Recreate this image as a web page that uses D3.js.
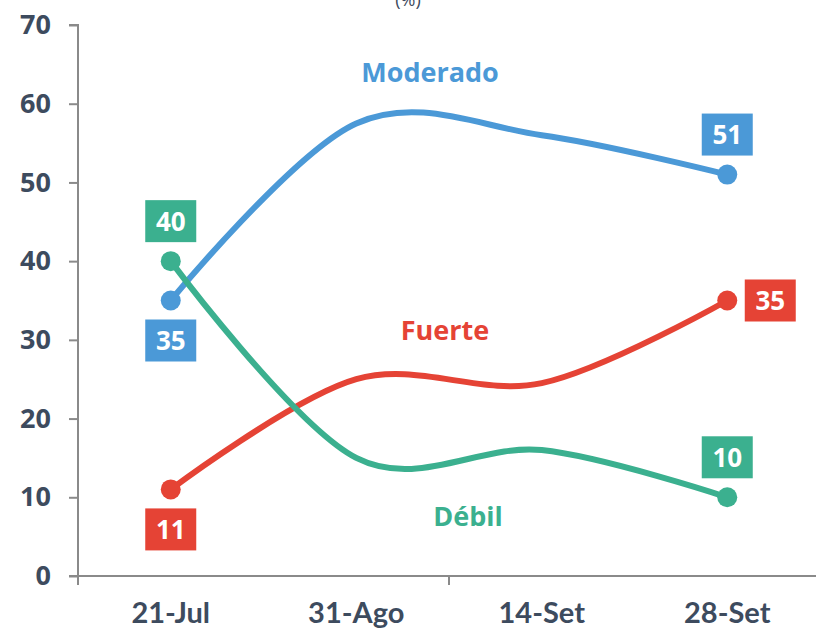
<!DOCTYPE html>
<html>
<head>
<meta charset="utf-8">
<script src="https://cdn.jsdelivr.net/npm/d3@7"></script>
<style>
  body { margin: 0; background: #fff; }
  svg { display: block; }
</style>
</head>
<body>
<div id="chart"></div>
<script>
// Data
var categories = ["21-Jul", "31-Ago", "14-Set", "28-Set"];
var moderado = [35, 57.5, 56, 51];
var fuerte = [11, 25, 24.5, 35];
var debil = [40, 15, 16, 10];
var yTicks = [0, 10, 20, 30, 40, 50, 60, 70];

var series = [
  { name: "Moderado", values: moderado, color: "#4b99d7", nameX: 430, nameY: 72,
    labels: [{ i: 0, pos: "below" }, { i: 3, pos: "above" }] },
  { name: "Fuerte", values: fuerte, color: "#e54335", nameX: 445, nameY: 330,
    labels: [{ i: 0, pos: "below" }, { i: 3, pos: "right" }] },
  { name: "Débil", values: debil, color: "#3bb08f", nameX: 468, nameY: 516,
    labels: [{ i: 0, pos: "above" }, { i: 3, pos: "above" }] }
];

var svgWidth = 816;
var svgHeight = 629;
var margin = { top: 25, right: -4, bottom: 53, left: 78 };
var width = svgWidth - margin.left - margin.right;
var height = svgHeight - margin.top - margin.bottom;

var svg = d3.select("#chart")
  .append("svg")
  .attr("width", svgWidth)
  .attr("height", svgHeight);

// "(%)" title, partly cut off at the top
svg.append("text")
  .attr("x", 408)
  .attr("y", 6)
  .attr("text-anchor", "middle")
  .attr("font-family", "Open Sans, sans-serif")
  .attr("font-size", "18px")
  .attr("fill", "#3d4b5e")
  .text("(%)");

var chartGroup = svg.append("g")
  .attr("transform", `translate(${margin.left}, ${margin.top})`);

// Scales
var xBand = d3.scaleBand()
  .domain(categories)
  .range([0, width]);
var xScale = d => xBand(d) + xBand.bandwidth() / 2;

var yScale = d3.scaleLinear()
  .domain([0, 70])
  .range([height, 0]);

// Y axis
var leftAxis = d3.axisLeft(yScale)
  .tickValues(yTicks)
  .tickSize(9)
  .tickPadding(18);
var yAxisG = chartGroup.append("g").call(leftAxis);
yAxisG.select(".domain").attr("stroke", "#8a8a8a").attr("stroke-width", 2)
  .attr("d", `M-9,0H0V${height}`);
yAxisG.selectAll(".tick line").attr("stroke", "#8a8a8a").attr("stroke-width", 2);
yAxisG.selectAll(".tick text")
  .attr("font-family", "Open Sans, sans-serif")
  .attr("font-weight", "bold")
  .attr("font-size", "27px")
  .attr("fill", "#3d4b5e");

// X axis: line with ticks every two categories
var xAxisG = chartGroup.append("g")
  .attr("transform", `translate(0, ${height})`);
xAxisG.append("line")
  .attr("x1", -9).attr("x2", width)
  .attr("stroke", "#8a8a8a").attr("stroke-width", 2);
xAxisG.selectAll(".xtick")
  .data([categories[0], categories[2]])
  .enter()
  .append("line")
  .attr("x1", d => xBand(d)).attr("x2", d => xBand(d))
  .attr("y1", 0).attr("y2", 9)
  .attr("stroke", "#8a8a8a").attr("stroke-width", 2);
xAxisG.selectAll(".xlabel")
  .data(categories)
  .enter()
  .append("text")
  .attr("x", d => xScale(d))
  .attr("y", 47)
  .attr("text-anchor", "middle")
  .attr("font-family", "Lato, sans-serif")
  .attr("font-weight", "bold")
  .attr("font-size", "29px")
  .attr("fill", "#3d4b5e")
  .text(d => d);

// Lines
var line = d3.line()
  .x((d, i) => xScale(categories[i]))
  .y(d => yScale(d))
  .curve(d3.curveCardinal.tension(0));

series.forEach(function(s) {
  chartGroup.append("path")
    .datum(s.values)
    .attr("d", line)
    .attr("fill", "none")
    .attr("stroke", s.color)
    .attr("stroke-width", 6)
    .attr("stroke-linecap", "round");

  // end points
  chartGroup.selectAll(null)
    .data(s.labels)
    .enter()
    .append("circle")
    .attr("cx", d => xScale(categories[d.i]))
    .attr("cy", d => yScale(s.values[d.i]))
    .attr("r", 10)
    .attr("fill", s.color);

  // value boxes
  s.labels.forEach(function(l) {
    var cx = xScale(categories[l.i]);
    var cy = yScale(s.values[l.i]);
    if (l.pos === "above") cy -= 40;
    if (l.pos === "below") cy += 40;
    if (l.pos === "right") cx += 43;
    chartGroup.append("rect")
      .attr("x", cx - 25.5)
      .attr("y", cy - 21)
      .attr("width", 51)
      .attr("height", 42)
      .attr("fill", s.color);
    chartGroup.append("text")
      .attr("x", cx)
      .attr("y", cy)
      .attr("dy", "0.36em")
      .attr("text-anchor", "middle")
      .attr("font-family", "Open Sans, sans-serif")
      .attr("font-weight", "bold")
      .attr("font-size", "26px")
      .attr("fill", "#fff")
      .text(s.values[l.i]);
  });

  // series name
  svg.append("text")
    .attr("x", s.nameX)
    .attr("y", s.nameY)
    .attr("dy", "0.36em")
    .attr("text-anchor", "middle")
    .attr("font-family", "Open Sans, sans-serif")
    .attr("font-weight", "bold")
    .attr("font-size", "27px")
    .attr("fill", s.color)
    .text(s.name);
});
</script>
</body>
</html>
